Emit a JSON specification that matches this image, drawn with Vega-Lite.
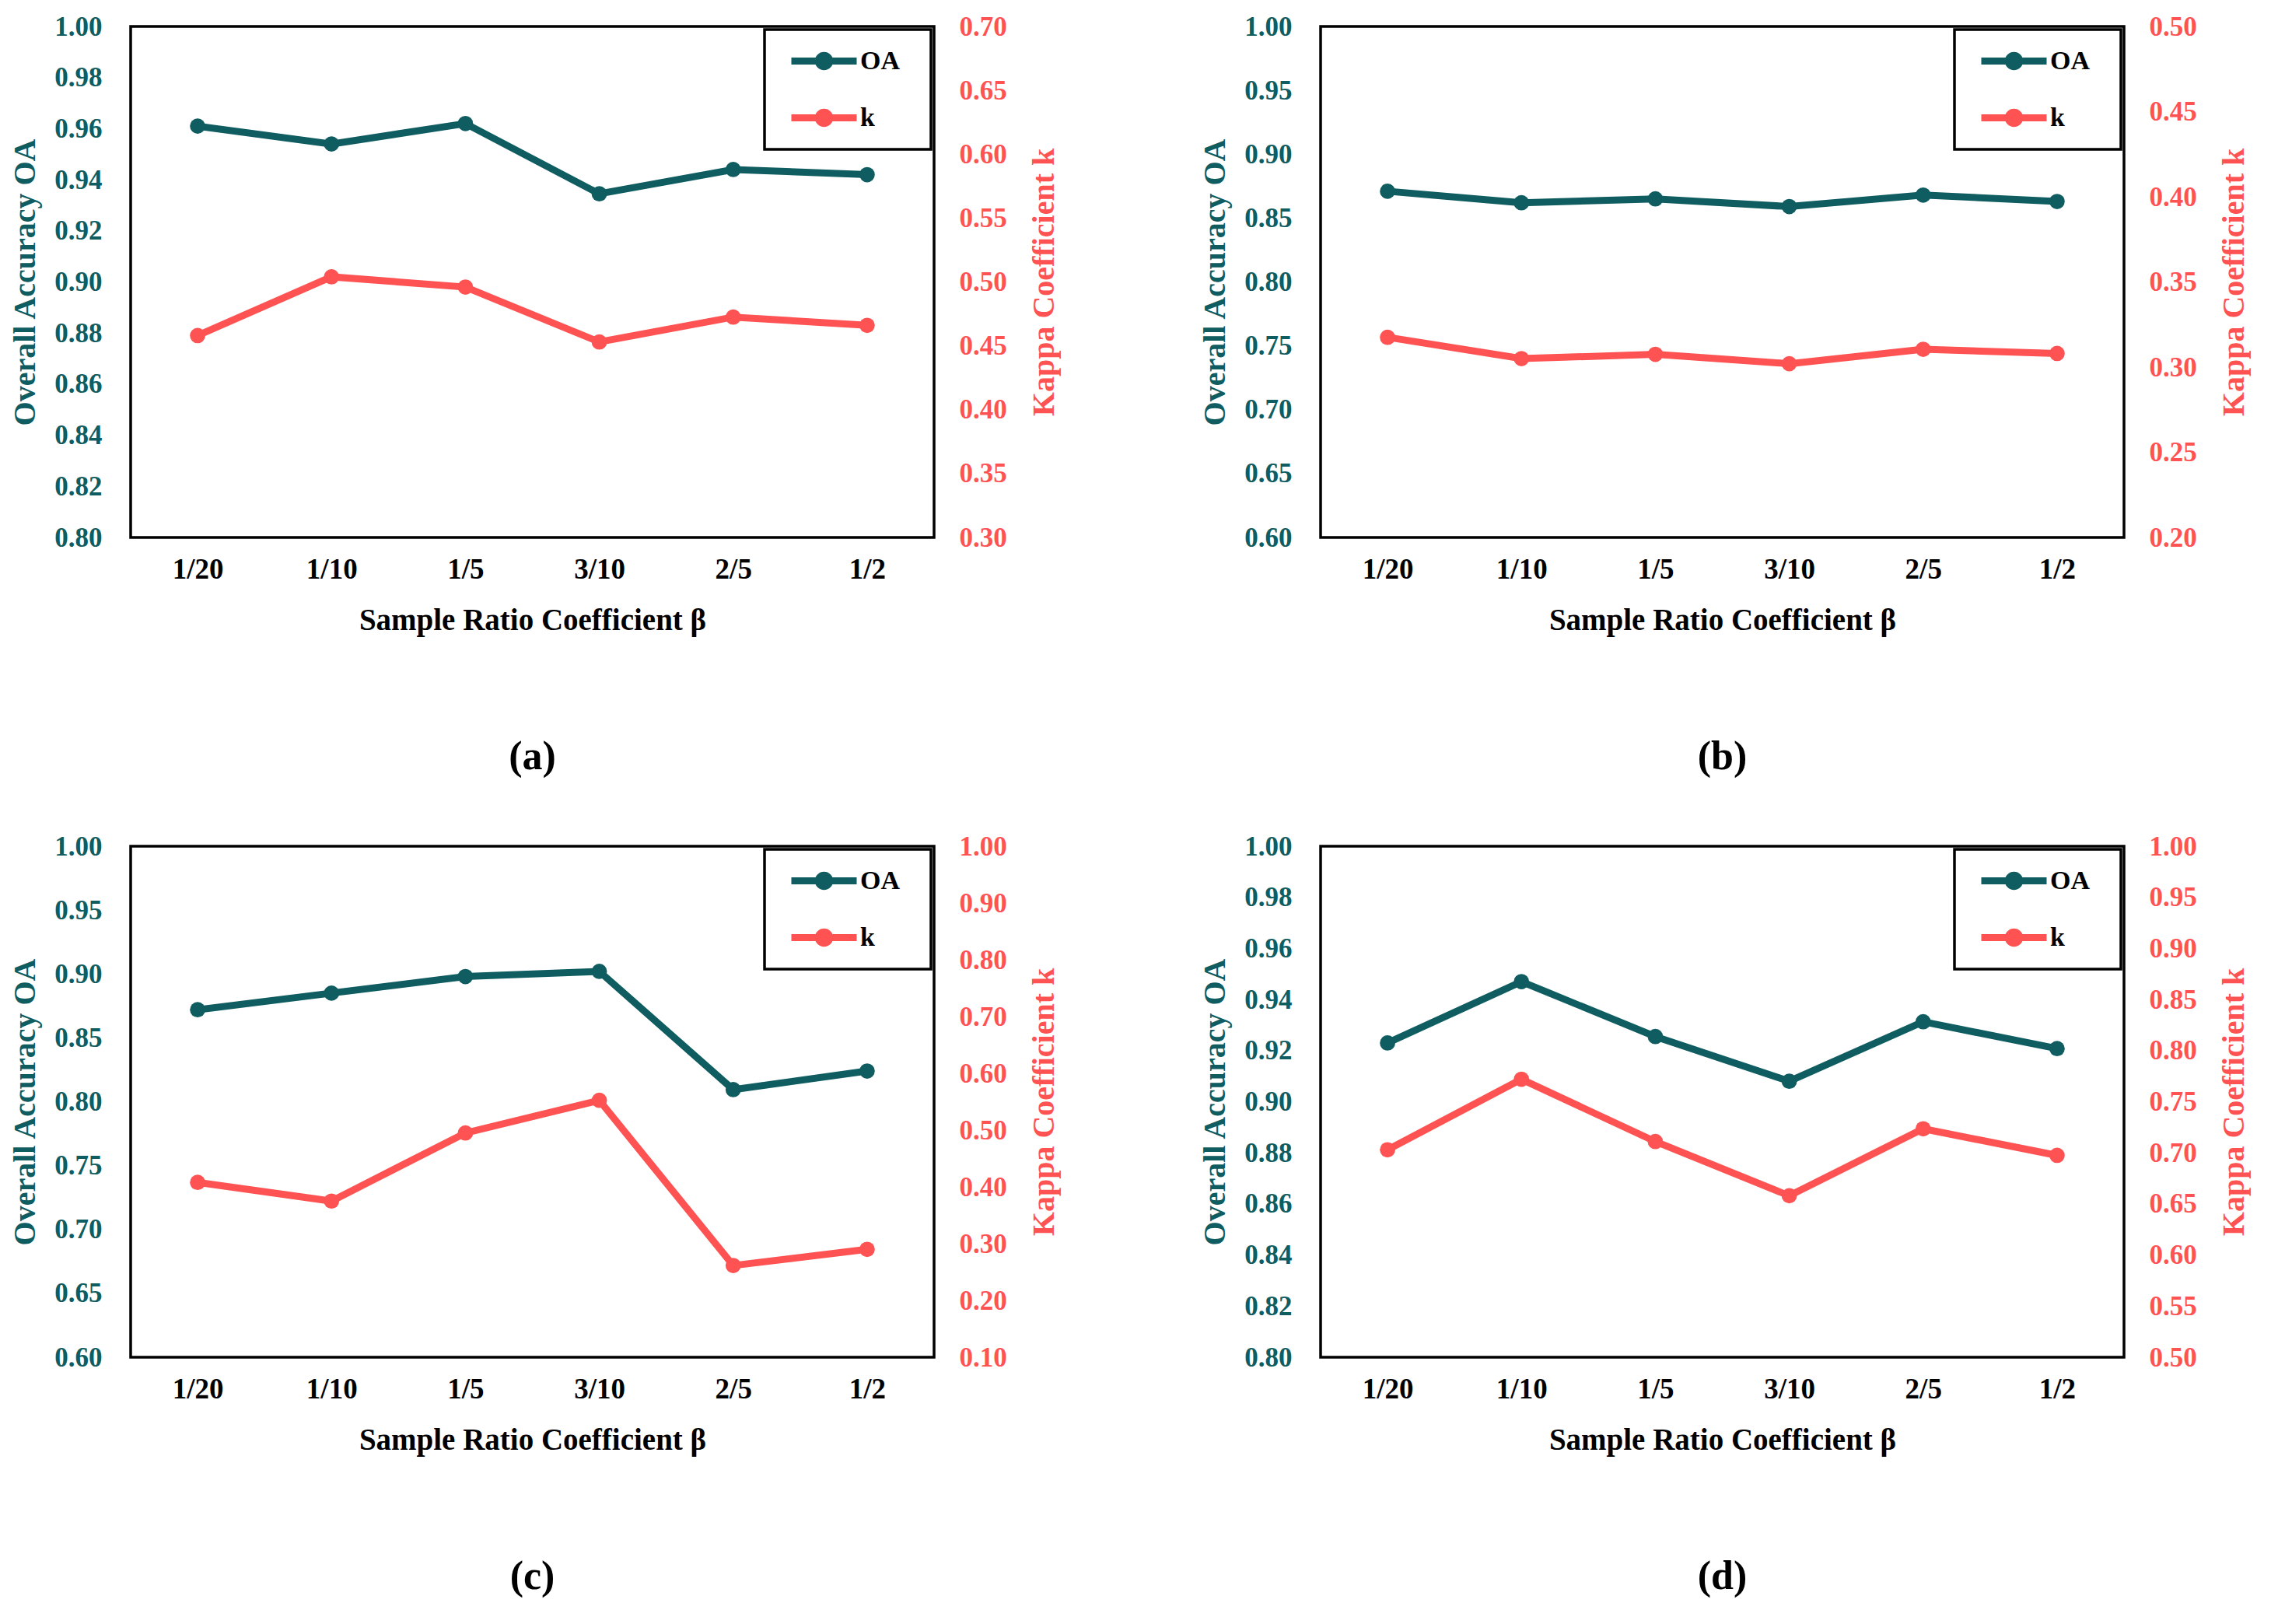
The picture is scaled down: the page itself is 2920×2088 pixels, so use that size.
{
  "$schema": "https://vega.github.io/schema/vega-lite/v6.json",
  "background": "white",
  "padding": {"left": 11, "top": 15, "right": 10, "bottom": 10},
  "datasets": {
    "acc": [
      {"panel": "a", "beta": "1/20", "metric": "OA", "value": 0.961},
      {"panel": "a", "beta": "1/10", "metric": "OA", "value": 0.954},
      {"panel": "a", "beta": "1/5", "metric": "OA", "value": 0.962},
      {"panel": "a", "beta": "3/10", "metric": "OA", "value": 0.9345},
      {"panel": "a", "beta": "2/5", "metric": "OA", "value": 0.944},
      {"panel": "a", "beta": "1/2", "metric": "OA", "value": 0.942},
      {"panel": "a", "beta": "1/20", "metric": "k", "value": 0.458},
      {"panel": "a", "beta": "1/10", "metric": "k", "value": 0.504},
      {"panel": "a", "beta": "1/5", "metric": "k", "value": 0.496},
      {"panel": "a", "beta": "3/10", "metric": "k", "value": 0.453},
      {"panel": "a", "beta": "2/5", "metric": "k", "value": 0.4725},
      {"panel": "a", "beta": "1/2", "metric": "k", "value": 0.466},
      {"panel": "b", "beta": "1/20", "metric": "OA", "value": 0.871},
      {"panel": "b", "beta": "1/10", "metric": "OA", "value": 0.862},
      {"panel": "b", "beta": "1/5", "metric": "OA", "value": 0.865},
      {"panel": "b", "beta": "3/10", "metric": "OA", "value": 0.859},
      {"panel": "b", "beta": "2/5", "metric": "OA", "value": 0.868},
      {"panel": "b", "beta": "1/2", "metric": "OA", "value": 0.863},
      {"panel": "b", "beta": "1/20", "metric": "k", "value": 0.3175},
      {"panel": "b", "beta": "1/10", "metric": "k", "value": 0.305},
      {"panel": "b", "beta": "1/5", "metric": "k", "value": 0.3075},
      {"panel": "b", "beta": "3/10", "metric": "k", "value": 0.302},
      {"panel": "b", "beta": "2/5", "metric": "k", "value": 0.3105},
      {"panel": "b", "beta": "1/2", "metric": "k", "value": 0.308},
      {"panel": "c", "beta": "1/20", "metric": "OA", "value": 0.872},
      {"panel": "c", "beta": "1/10", "metric": "OA", "value": 0.885},
      {"panel": "c", "beta": "1/5", "metric": "OA", "value": 0.898},
      {"panel": "c", "beta": "3/10", "metric": "OA", "value": 0.902},
      {"panel": "c", "beta": "2/5", "metric": "OA", "value": 0.8095},
      {"panel": "c", "beta": "1/2", "metric": "OA", "value": 0.824},
      {"panel": "c", "beta": "1/20", "metric": "k", "value": 0.408},
      {"panel": "c", "beta": "1/10", "metric": "k", "value": 0.375},
      {"panel": "c", "beta": "1/5", "metric": "k", "value": 0.495},
      {"panel": "c", "beta": "3/10", "metric": "k", "value": 0.5525},
      {"panel": "c", "beta": "2/5", "metric": "k", "value": 0.2615},
      {"panel": "c", "beta": "1/2", "metric": "k", "value": 0.29},
      {"panel": "d", "beta": "1/20", "metric": "OA", "value": 0.923},
      {"panel": "d", "beta": "1/10", "metric": "OA", "value": 0.947},
      {"panel": "d", "beta": "1/5", "metric": "OA", "value": 0.9255},
      {"panel": "d", "beta": "3/10", "metric": "OA", "value": 0.908},
      {"panel": "d", "beta": "2/5", "metric": "OA", "value": 0.9313},
      {"panel": "d", "beta": "1/2", "metric": "OA", "value": 0.9208},
      {"panel": "d", "beta": "1/20", "metric": "k", "value": 0.703},
      {"panel": "d", "beta": "1/10", "metric": "k", "value": 0.772},
      {"panel": "d", "beta": "1/5", "metric": "k", "value": 0.711},
      {"panel": "d", "beta": "3/10", "metric": "k", "value": 0.658},
      {"panel": "d", "beta": "2/5", "metric": "k", "value": 0.7235},
      {"panel": "d", "beta": "1/2", "metric": "k", "value": 0.6975}
    ]
  },
  "data": {"name": "acc"},
  "columns": 2,
  "spacing": {"column": 177, "row": 68},
  "resolve": {"scale": {"color": "independent"}, "legend": {"color": "independent"}},
  "concat": [
    {
      "width": 1033, "height": 657,
      "title": "(a)",
      "layer": [
        {
          "transform": [{"filter": "datum.panel == 'a' && datum.metric == 'OA'"}],
          "mark": {"type": "line", "strokeWidth": 9, "point": {"filled": true, "size": 390}},
          "encoding": {
            "x": {"field": "beta", "type": "ordinal", "sort": ["1/20", "1/10", "1/5", "3/10", "2/5", "1/2"], "scale": {"type": "point", "padding": 0.5}, "axis": {"title": "Sample Ratio Coefficient β"}},
            "y": {"field": "value", "type": "quantitative", "scale": {"domain": [0.8, 1.0], "nice": false, "zero": false}, "axis": {"orient": "left", "title": "Overall Accuracy OA", "values": [0.8, 0.82, 0.84, 0.86, 0.88, 0.9, 0.92, 0.94, 0.96, 0.98, 1.0], "format": ".2f", "labelColor": "#0F5D61", "titleColor": "#0F5D61", "labelPadding": 37, "titlePadding": 17}},
            "color": {"field": "metric", "type": "nominal", "scale": {"domain": ["OA", "k"], "range": ["#0F5D61", "#FF5252"]}, "legend": {"title": " "}}
          }
        },
        {
          "transform": [{"filter": "datum.panel == 'a' && datum.metric == 'k'"}],
          "mark": {"type": "line", "strokeWidth": 9, "point": {"filled": true, "size": 390}},
          "encoding": {
            "x": {"field": "beta", "type": "ordinal", "sort": ["1/20", "1/10", "1/5", "3/10", "2/5", "1/2"]},
            "y": {"field": "value", "type": "quantitative", "scale": {"domain": [0.3, 0.7], "nice": false, "zero": false}, "axis": {"orient": "right", "title": "Kappa Coefficient k", "values": [0.3, 0.35, 0.4, 0.45, 0.5, 0.55, 0.6, 0.65, 0.7], "format": ".2f", "labelColor": "#FF5252", "titleColor": "#FF5252", "labelPadding": 32, "titlePadding": 68, "titleAngle": 270}},
            "color": {"field": "metric", "type": "nominal", "scale": {"domain": ["OA", "k"], "range": ["#0F5D61", "#FF5252"]}, "legend": {"title": " "}}
          }
        }
      ],
      "resolve": {"scale": {"y": "independent"}}
    },
    {
      "width": 1033, "height": 657,
      "title": "(b)",
      "layer": [
        {
          "transform": [{"filter": "datum.panel == 'b' && datum.metric == 'OA'"}],
          "mark": {"type": "line", "strokeWidth": 9, "point": {"filled": true, "size": 390}},
          "encoding": {
            "x": {"field": "beta", "type": "ordinal", "sort": ["1/20", "1/10", "1/5", "3/10", "2/5", "1/2"], "scale": {"type": "point", "padding": 0.5}, "axis": {"title": "Sample Ratio Coefficient β"}},
            "y": {"field": "value", "type": "quantitative", "scale": {"domain": [0.6, 1.0], "nice": false, "zero": false}, "axis": {"orient": "left", "title": "Overall Accuracy OA", "values": [0.6, 0.65, 0.7, 0.75, 0.8, 0.85, 0.9, 0.95, 1.0], "format": ".2f", "labelColor": "#0F5D61", "titleColor": "#0F5D61", "labelPadding": 37, "titlePadding": 17}},
            "color": {"field": "metric", "type": "nominal", "scale": {"domain": ["OA", "k"], "range": ["#0F5D61", "#FF5252"]}, "legend": {"title": " "}}
          }
        },
        {
          "transform": [{"filter": "datum.panel == 'b' && datum.metric == 'k'"}],
          "mark": {"type": "line", "strokeWidth": 9, "point": {"filled": true, "size": 390}},
          "encoding": {
            "x": {"field": "beta", "type": "ordinal", "sort": ["1/20", "1/10", "1/5", "3/10", "2/5", "1/2"]},
            "y": {"field": "value", "type": "quantitative", "scale": {"domain": [0.2, 0.5], "nice": false, "zero": false}, "axis": {"orient": "right", "title": "Kappa Coefficient k", "values": [0.2, 0.25, 0.3, 0.35, 0.4, 0.45, 0.5], "format": ".2f", "labelColor": "#FF5252", "titleColor": "#FF5252", "labelPadding": 32, "titlePadding": 68, "titleAngle": 270}},
            "color": {"field": "metric", "type": "nominal", "scale": {"domain": ["OA", "k"], "range": ["#0F5D61", "#FF5252"]}, "legend": {"title": " "}}
          }
        }
      ],
      "resolve": {"scale": {"y": "independent"}}
    },
    {
      "width": 1033, "height": 657,
      "title": "(c)",
      "layer": [
        {
          "transform": [{"filter": "datum.panel == 'c' && datum.metric == 'OA'"}],
          "mark": {"type": "line", "strokeWidth": 9, "point": {"filled": true, "size": 390}},
          "encoding": {
            "x": {"field": "beta", "type": "ordinal", "sort": ["1/20", "1/10", "1/5", "3/10", "2/5", "1/2"], "scale": {"type": "point", "padding": 0.5}, "axis": {"title": "Sample Ratio Coefficient β"}},
            "y": {"field": "value", "type": "quantitative", "scale": {"domain": [0.6, 1.0], "nice": false, "zero": false}, "axis": {"orient": "left", "title": "Overall Accuracy OA", "values": [0.6, 0.65, 0.7, 0.75, 0.8, 0.85, 0.9, 0.95, 1.0], "format": ".2f", "labelColor": "#0F5D61", "titleColor": "#0F5D61", "labelPadding": 37, "titlePadding": 17}},
            "color": {"field": "metric", "type": "nominal", "scale": {"domain": ["OA", "k"], "range": ["#0F5D61", "#FF5252"]}, "legend": {"title": " "}}
          }
        },
        {
          "transform": [{"filter": "datum.panel == 'c' && datum.metric == 'k'"}],
          "mark": {"type": "line", "strokeWidth": 9, "point": {"filled": true, "size": 390}},
          "encoding": {
            "x": {"field": "beta", "type": "ordinal", "sort": ["1/20", "1/10", "1/5", "3/10", "2/5", "1/2"]},
            "y": {"field": "value", "type": "quantitative", "scale": {"domain": [0.1, 1.0], "nice": false, "zero": false}, "axis": {"orient": "right", "title": "Kappa Coefficient k", "values": [0.1, 0.2, 0.3, 0.4, 0.5, 0.6, 0.7, 0.8, 0.9, 1.0], "format": ".2f", "labelColor": "#FF5252", "titleColor": "#FF5252", "labelPadding": 32, "titlePadding": 68, "titleAngle": 270}},
            "color": {"field": "metric", "type": "nominal", "scale": {"domain": ["OA", "k"], "range": ["#0F5D61", "#FF5252"]}, "legend": {"title": " "}}
          }
        }
      ],
      "resolve": {"scale": {"y": "independent"}}
    },
    {
      "width": 1033, "height": 657,
      "title": "(d)",
      "layer": [
        {
          "transform": [{"filter": "datum.panel == 'd' && datum.metric == 'OA'"}],
          "mark": {"type": "line", "strokeWidth": 9, "point": {"filled": true, "size": 390}},
          "encoding": {
            "x": {"field": "beta", "type": "ordinal", "sort": ["1/20", "1/10", "1/5", "3/10", "2/5", "1/2"], "scale": {"type": "point", "padding": 0.5}, "axis": {"title": "Sample Ratio Coefficient β"}},
            "y": {"field": "value", "type": "quantitative", "scale": {"domain": [0.8, 1.0], "nice": false, "zero": false}, "axis": {"orient": "left", "title": "Overall Accuracy OA", "values": [0.8, 0.82, 0.84, 0.86, 0.88, 0.9, 0.92, 0.94, 0.96, 0.98, 1.0], "format": ".2f", "labelColor": "#0F5D61", "titleColor": "#0F5D61", "labelPadding": 37, "titlePadding": 17}},
            "color": {"field": "metric", "type": "nominal", "scale": {"domain": ["OA", "k"], "range": ["#0F5D61", "#FF5252"]}, "legend": {"title": " "}}
          }
        },
        {
          "transform": [{"filter": "datum.panel == 'd' && datum.metric == 'k'"}],
          "mark": {"type": "line", "strokeWidth": 9, "point": {"filled": true, "size": 390}},
          "encoding": {
            "x": {"field": "beta", "type": "ordinal", "sort": ["1/20", "1/10", "1/5", "3/10", "2/5", "1/2"]},
            "y": {"field": "value", "type": "quantitative", "scale": {"domain": [0.5, 1.0], "nice": false, "zero": false}, "axis": {"orient": "right", "title": "Kappa Coefficient k", "values": [0.5, 0.55, 0.6, 0.65, 0.7, 0.75, 0.8, 0.85, 0.9, 0.95, 1.0], "format": ".2f", "labelColor": "#FF5252", "titleColor": "#FF5252", "labelPadding": 32, "titlePadding": 68, "titleAngle": 270}},
            "color": {"field": "metric", "type": "nominal", "scale": {"domain": ["OA", "k"], "range": ["#0F5D61", "#FF5252"]}, "legend": {"title": " "}}
          }
        }
      ],
      "resolve": {"scale": {"y": "independent"}}
    }
  ],
  "config": {
    "view": {"stroke": "black", "strokeWidth": 3.5},
    "axis": {"domain": false, "ticks": false, "grid": false, "labelFont": "Liberation Serif", "labelFontWeight": "bold", "labelFontSize": 35, "titleFont": "Liberation Serif", "titleFontWeight": "bold", "titleFontSize": 40},
    "axisX": {"labelAngle": 0, "labelColor": "black", "titleColor": "black", "labelFontSize": 37, "labelPadding": 23, "titlePadding": 28, "titleFontSize": 39},
    "title": {"orient": "bottom", "anchor": "middle", "font": "Liberation Serif", "fontSize": 52, "fontWeight": "bold", "color": "black", "offset": 131},
    "legend": {
      "orient": "top-right", "offset": 4, "strokeColor": "black", "strokeWidth": 3.5, "fillColor": "white", "padding": 15,
      "titleOrient": "right", "titlePadding": 25, "titleFontSize": 2, "titleColor": "white",
      "labelFont": "Liberation Serif", "labelFontWeight": "bold", "labelFontSize": 34, "labelColor": "black",
      "symbolType": "M-2,0L2,0M0.345,0A0.345,0.345 0 1,1 -0.345,0A0.345,0.345 0 1,1 0.345,0M0.17,0A0.17,0.17 0 1,1 -0.17,0A0.17,0.17 0 1,1 0.17,0",
      "symbolSize": 1764, "symbolStrokeWidth": 9, "symbolOffset": 36, "labelOffset": 21, "rowPadding": 22
    }
  }
}
